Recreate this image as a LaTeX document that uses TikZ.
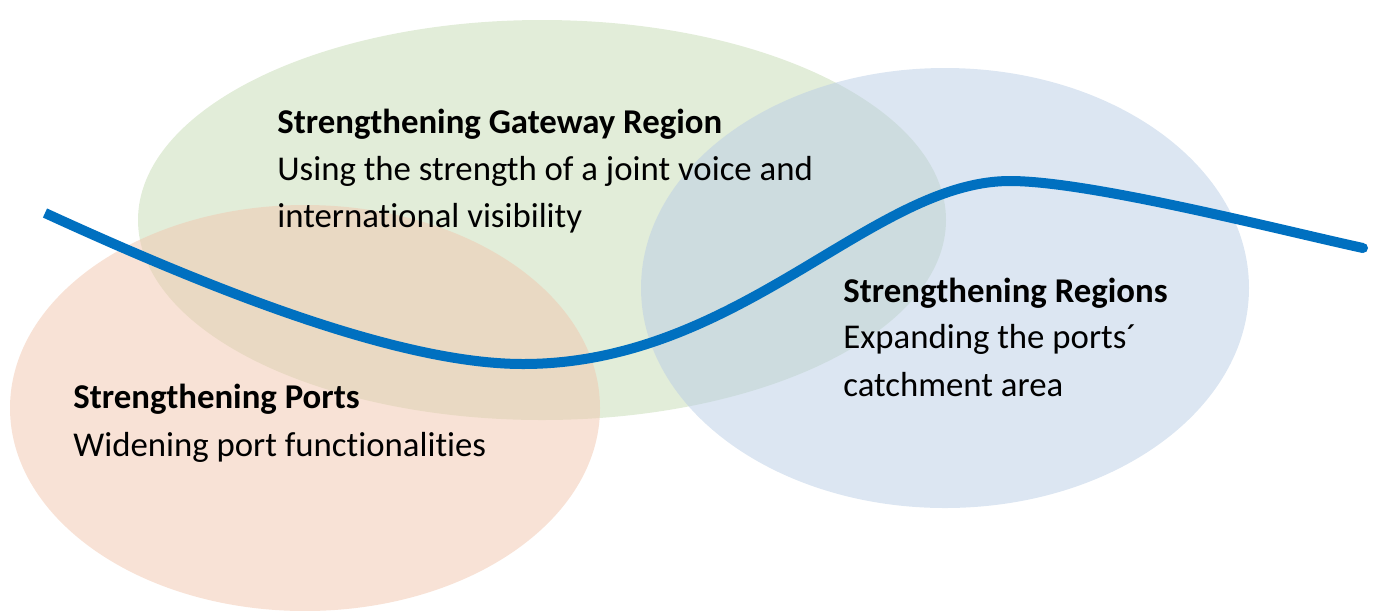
\documentclass[tikz,border=0pt]{standalone}
\usepackage{fontspec}
\setmainfont{Carlito}[Ligatures=NoCommon]
\definecolor{gfill}{HTML}{C5DBB3}
\definecolor{bfill}{HTML}{B9CDE5}
\definecolor{ofill}{HTML}{F1C5AD}
\definecolor{curveblue}{HTML}{0070C0}
\tikzset{
  blob/.style={fill opacity=0.5, draw=none},
  title/.style={anchor=base west, inner sep=0pt, font=\fontsize{19.8}{24}\selectfont\bfseries},
  body/.style={anchor=base west, inner sep=0pt, font=\fontsize{19.8}{24}\selectfont},
  wave/.style={draw=curveblue, line width=10*0.02cm, line join=round}
}
\begin{document}
\begin{tikzpicture}[x=0.02cm,y=-0.02cm]
\useasboundingbox (0,0) rectangle (1377,610);
% ellipses
\fill[blob, gfill] (542,220) ellipse [x radius=404, y radius=200];
\fill[blob, bfill] (945,288) ellipse [x radius=304, y radius=220];
\fill[blob, ofill] (305,408) ellipse [x radius=295, y radius=203];
% wave
\coordinate (wstart) at (45,213);
\coordinate (wmin) at (523,364);
\coordinate (wmax) at (1010,181);
\coordinate (wend) at (1363,248);
\draw[wave] (wstart) .. controls (215,291) and (400,364) .. (wmin)
  .. controls (740,364) and (872,181) .. (wmax)
  .. controls (1090,181) and (1280,230) .. (wend);
\fill[curveblue] (wend) circle (5);
% texts
\node[title] (gt) at (277,133) {Strengthening Gateway Region};
\node[body] (g1) at (277,180) {Using the strength of a joint voice and};
\node[body] (g2) at (277,227) {international visibility};
\node[title] (rt) at (843,302) {Strengthening Regions};
\node[body] (r1) at (843,348) {Expanding the ports´};
\node[body] (r2) at (843,396) {catchment area};
\node[title] (pt) at (73,408) {Strengthening Ports};
\node[body] (p1) at (73,456) {Widening port functionalities};
\end{tikzpicture}
\end{document}
